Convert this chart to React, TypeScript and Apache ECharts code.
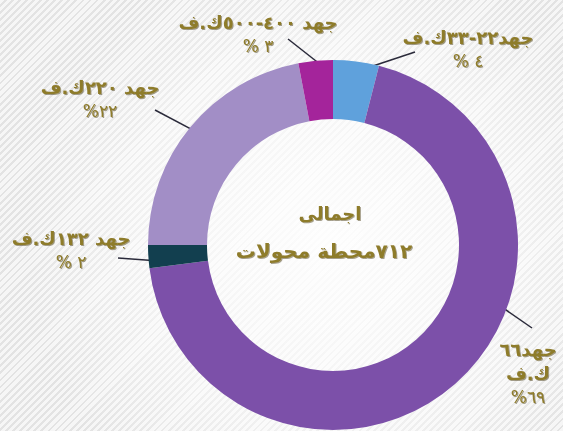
import React, { useEffect, useRef } from 'react';
import * as echarts from 'echarts';

// Data (clockwise from 12 o'clock)
const categories = ['جهد٢٢-٣٣ك.ف', 'جهد٦٦\nك.ف', 'جهد ١٣٢ك.ف', 'جهد ٢٢٠ك.ف', 'جهد ٤٠٠-٥٠٠ك.ف'];
const shares = [4, 69, 2, 22, 3];
const percentSeparators = [' ', '', ' ', '', ' '];
const sliceColors = ['#5FA1DC', '#7C50A9', '#123F4F', '#A28EC6', '#A4249B'];
const totalStations = 712;
const centerTitle = 'اجمالى';
const centerSuffix = 'محطة محولات';

// Layout
const CENTER: [number, number] = [333, 245];
const RADII: [number, number] = [126, 185];
const labelAnchors: [number, number][] = [
  [468, 49],
  [528, 373],
  [71, 250],
  [100, 99],
  [258, 34],
];
// where along each slice (0..1 of its sweep) the leader line starts
const leaderFractions = [0.66, 0.385, 0.3, 0.5, 0.73];
// leader line end point near the label
const leaderEnds: [number, number][] = [
  [415, 52],
  [532, 328],
  [118, 258],
  [155, 110],
  [288, 39],
];

const toArabicDigits = (v: number | string) =>
  String(v).replace(/[0-9]/g, (d) => '٠١٢٣٤٥٦٧٨٩'[Number(d)]);

const GOLD = '#8E7B2B';
const FONT = '"DejaVu Sans", sans-serif';

export default function App() {
  const ref = useRef<HTMLDivElement>(null);
  useEffect(() => {
    if (!ref.current) return;
    const chart = echarts.init(ref.current, null, { renderer: 'svg' });
    const shadow = {
      textShadowColor: 'rgba(60,45,0,0.45)',
      textShadowBlur: 1,
      textShadowOffsetX: 1,
      textShadowOffsetY: 1,
    };
    const total = shares.reduce((a, b) => a + b, 0);
    const leaderStart = (i: number): [number, number] => {
      const before = shares.slice(0, i).reduce((a, b) => a + b, 0);
      const frac = (before + shares[i] * leaderFractions[i]) / total;
      const ang = frac * Math.PI * 2; // clockwise from top
      const r = RADII[1] - 7;
      return [CENTER[0] + r * Math.sin(ang), CENTER[1] - r * Math.cos(ang)];
    };
    chart.setOption({
      animation: false,
      backgroundColor: 'transparent',
      graphic: [
        {
          type: 'text',
          x: 330,
          y: 213,
          style: {
            text: centerTitle,
            align: 'center',
            verticalAlign: 'middle',
            font: `bold 18px ${FONT}`,
            fill: GOLD,
            ...shadow,
          },
        },
        {
          type: 'text',
          x: 324,
          y: 251,
          style: {
            text: toArabicDigits(totalStations) + centerSuffix,
            align: 'center',
            verticalAlign: 'middle',
            font: `bold 20px ${FONT}`,
            fill: GOLD,
            ...shadow,
          },
        },
      ],
      series: [
        {
          type: 'pie',
          center: CENTER,
          radius: RADII,
          startAngle: 90,
          clockwise: true,
          avoidLabelOverlap: false,
          data: categories.map((name, i) => ({
            name,
            value: shares[i],
            itemStyle: { color: sliceColors[i] },
          })),
          label: {
            show: true,
            formatter: (p: any) => {
              const nameLines = String(p.name)
                .split('\n')
                .map((l: string) => `{n|${l}}`)
                .join('\n');
              return `${nameLines}\n{p|%${percentSeparators[p.dataIndex]}${toArabicDigits(p.value)}}`;
            },
            rich: {
              n: {
                fontFamily: FONT,
                fontWeight: 'bold',
                fontSize: 18,
                lineHeight: 24,
                color: GOLD,
                ...shadow,
              },
              p: {
                fontFamily: FONT,
                fontSize: 17,
                lineHeight: 24,
                color: GOLD,
                ...shadow,
              },
            },
          },
          labelLine: {
            show: true,
            length: 10,
            length2: 0,
            lineStyle: { color: '#2A2A3A', width: 1.5 },
          },
          labelLayout: (params: any) => {
            const i = params.dataIndex;
            const a = labelAnchors[i];
            const s = leaderStart(i);
            const e = leaderEnds[i];
            return {
              x: a[0],
              y: a[1],
              align: 'center',
              verticalAlign: 'middle',
              labelLinePoints: [s, e, e],
            };
          },
        },
      ],
    });
    return () => chart.dispose();
  }, []);
  return (
    <div
      ref={ref}
      style={{
        position: 'fixed',
        left: 0,
        top: 0,
        width: 563,
        height: 431,
        background:
          'radial-gradient(circle at 58% 56%, rgba(255,255,255,0.9) 0%, rgba(255,255,255,0.6) 40%, rgba(255,255,255,0) 75%), repeating-linear-gradient(135deg, #f6f6f6 0px, #f6f6f6 3px, #e3e3e3 3px, #e3e3e3 5px)',
      }}
    />
  );
}
